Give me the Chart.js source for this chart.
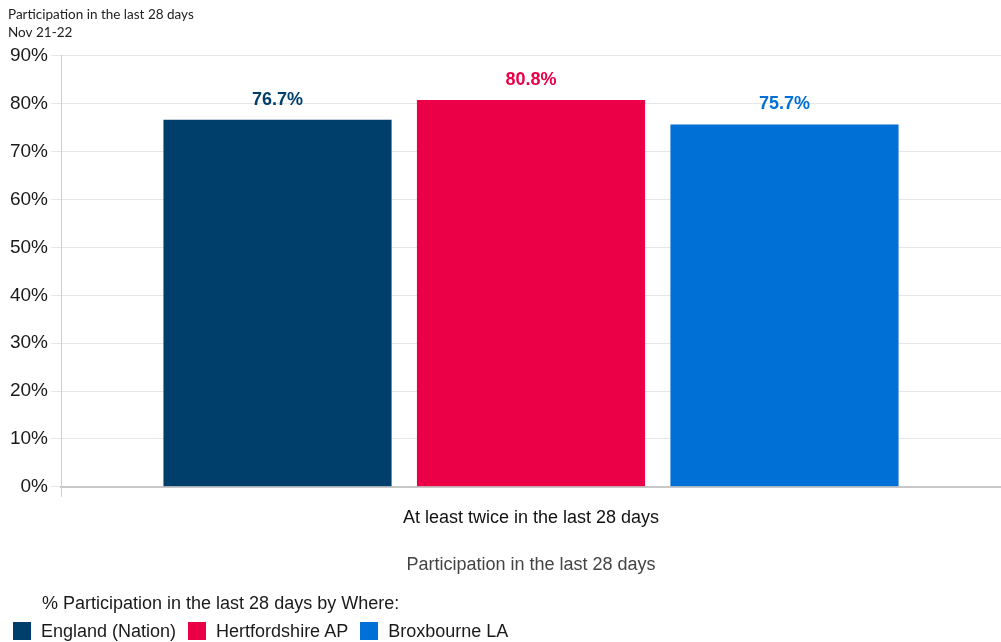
<!DOCTYPE html>
<html>
<head>
<meta charset="utf-8">
<script src="https://cdn.jsdelivr.net/npm/chart.js@4/dist/chart.umd.min.js"></script>
<style>
  html, body { margin: 0; padding: 0; background: #fff; }
  #wrap { position: relative; width: 1001px; height: 642px; overflow: hidden; }
  #chart { position: absolute; left: 0; top: 0; }
  #legend { position: absolute; left: 0; top: 590px; width: 1001px;
            font-family: "Liberation Sans", Arial, sans-serif; font-size: 18px; color: #1a1a1a; }
  #legend .heading { position: absolute; left: 42px; top: 2px; white-space: nowrap; line-height: 22px; }
  #legend .items { position: absolute; left: 13px; top: 32px; display: flex; white-space: nowrap; }
  #legend .item { display: flex; align-items: center; margin-right: 12px; height: 18px; line-height: 18px; }
  #legend .swatch { width: 18px; height: 18px; margin-right: 10px; }
</style>
</head>
<body>
<div id="wrap">
  <canvas id="chart" width="1001" height="642"></canvas>
  <div id="legend">
    <div class="heading">% Participation in the last 28 days by Where:</div>
    <div class="items" id="legendItems"></div>
  </div>
</div>
<script>
// Participation figures, Nov 21-22
const categories = ['At least twice in the last 28 days'];
const seriesNames = ['England (Nation)', 'Hertfordshire AP', 'Broxbourne LA'];
const englandValues = [76.7];
const hertfordshireValues = [80.8];
const broxbourneValues = [75.7];
const seriesColors = ['#003f6b', '#eb0048', '#006fd6'];
const yTicks = [0, 10, 20, 30, 40, 50, 60, 70, 80, 90];

const seriesValues = [englandValues, hertfordshireValues, broxbourneValues];

const datasets = seriesNames.map((name, i) => ({
  label: name,
  data: seriesValues[i],
  backgroundColor: seriesColors[i],
  borderWidth: 0,
  categoryPercentage: 0.809,
  barPercentage: 0.9
}));

// Value labels above each bar, coloured like the bar
const valueLabels = {
  id: 'valueLabels',
  afterDatasetsDraw(chart) {
    const ctx = chart.ctx;
    ctx.save();
    ctx.font = 'bold 18px "Liberation Sans", Arial, sans-serif';
    ctx.textAlign = 'center';
    ctx.textBaseline = 'middle';
    chart.data.datasets.forEach((ds, di) => {
      chart.getDatasetMeta(di).data.forEach((bar, i) => {
        ctx.fillStyle = ds.backgroundColor;
        ctx.fillText(ds.data[i].toFixed(1) + '%', bar.x, bar.y - 20);
      });
    });
    ctx.restore();
  }
};

new Chart(document.getElementById('chart'), {
  type: 'bar',
  data: { labels: categories, datasets },
  plugins: [valueLabels],
  options: {
    responsive: false,
    animation: false,
    layout: { padding: { left: 8, right: 0, top: 0, bottom: 62 } },
    plugins: {
      legend: { display: false },
      tooltip: { enabled: false },
      title: {
        display: true,
        align: 'start',
        text: ['Participation in the last 28 days', 'Nov 21-22'],
        color: '#222',
        font: { family: 'Lato, "Open Sans", sans-serif', size: 13.5, weight: 'normal', lineHeight: 1.333 },
        padding: { top: 6, bottom: 14 }
      }
    },
    scales: {
      x: {
        grid: { display: true, drawOnChartArea: false, color: '#cfcfcf', tickLength: 10, offset: true },
        border: { display: true, color: '#c8c8c8', width: 2 },
        ticks: {
          color: '#111',
          padding: 10,
          font: { family: '"Liberation Sans", Arial, sans-serif', size: 18 }
        },
        title: {
          display: true,
          text: 'Participation in the last 28 days',
          color: '#444',
          font: { family: '"Liberation Sans", Arial, sans-serif', size: 18 },
          padding: { top: 16, bottom: 4 }
        }
      },
      y: {
        min: 0,
        max: 90,
        afterFit(scale) { scale.width = 53; },
        afterBuildTicks(scale) { scale.ticks = yTicks.map(v => ({ value: v })); },
        grid: { color: '#e6e6e6', tickLength: 10, tickColor: '#e6e6e6' },
        border: { display: true, color: '#cccccc' },
        ticks: {
          color: '#1a1a1a',
          padding: 3,
          font: { family: '"Liberation Sans", Arial, sans-serif', size: 19 },
          callback: v => v + '%'
        }
      }
    }
  }
});

// Legend entries built from the series names and colours
const legendItems = document.getElementById('legendItems');
seriesNames.forEach((name, i) => {
  const item = document.createElement('div');
  item.className = 'item';
  const sw = document.createElement('span');
  sw.className = 'swatch';
  sw.style.background = seriesColors[i];
  const label = document.createElement('span');
  label.textContent = name;
  item.appendChild(sw);
  item.appendChild(label);
  legendItems.appendChild(item);
});
</script>
</body>
</html>
